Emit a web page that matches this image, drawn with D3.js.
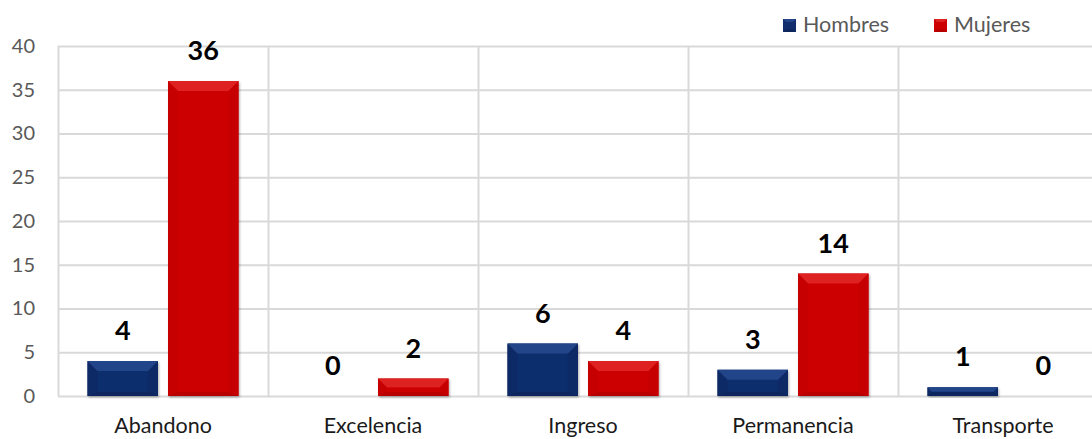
<!DOCTYPE html>
<html><head><meta charset="utf-8">
<script src="https://cdn.jsdelivr.net/npm/d3@7/dist/d3.min.js"></script>
<style>body{margin:0;background:#fff;} svg{display:block;}</style>
</head><body>
<svg id="c" width="1092" height="439"></svg>
<script>
const categories = ["Abandono","Excelencia","Ingreso","Permanencia","Transporte"];
const seriesNames = ["Hombres","Mujeres"];
const hombres = [4,0,6,3,1];
const mujeres = [36,2,4,14,0];
const yTicks = [0,5,10,15,20,25,30,35,40];

const colors = {
  Hombres:{base:"#112d6c", top:"#24458a", side:"#102a66", bottom:"#0d265e"},
  Mujeres:{base:"#cc0000", top:"#de2323", side:"#c60000", bottom:"#b80000"}
};

const svg = d3.select("#c");
const m = {left:58, top:46, bottom:396};
const x0 = d3.scaleBand().domain(categories).range([m.left, m.left + 5*210]).paddingInner(0).paddingOuter(0);
const x1 = d3.scaleBand().domain(seriesNames).range([29.5, 210-29.5]).paddingInner(0.125).paddingOuter(0);
const y = d3.scaleLinear().domain([0,40]).range([m.bottom, m.top]);

const defs = svg.append("defs");
const f = defs.append("filter").attr("id","sh").attr("x","-20%").attr("y","-20%").attr("width","140%").attr("height","140%");
f.append("feDropShadow").attr("dx",1).attr("dy",1.5).attr("stdDeviation",1.2).attr("flood-color","#000").attr("flood-opacity",0.3);

const FONT = "Lato, 'Open Sans', sans-serif";

// gridlines horizontal
svg.append("g").selectAll("line").data(yTicks).join("line")
  .attr("x1", m.left).attr("x2", 1092).attr("y1", d=>y(d)+0.5).attr("y2", d=>y(d)+0.5)
  .attr("stroke","#d9d9d9").attr("stroke-width",2);
// vertical gridlines at category boundaries
svg.append("g").selectAll("line").data(categories).join("line")
  .attr("x1", d=>x0(d)+0.5).attr("x2", d=>x0(d)+0.5).attr("y1", m.top).attr("y2", m.bottom)
  .attr("stroke","#d9d9d9").attr("stroke-width",2);

// y axis labels
const yAxis = d3.axisLeft(y).tickValues(yTicks).tickSize(0).tickPadding(23);
const gy = svg.append("g").attr("transform",`translate(${m.left},0)`).call(yAxis);
gy.select(".domain").remove();
gy.selectAll("text").attr("font-family",FONT).attr("font-size",20).attr("fill","#595959");

// x axis labels
const xAxis = d3.axisBottom(x0).tickSize(0).tickPadding(22);
const gx = svg.append("g").attr("transform",`translate(0,${m.bottom})`).call(xAxis);
gx.select(".domain").remove();
gx.selectAll("text").attr("font-family",FONT).attr("font-size",21.5).attr("fill","#1a1a1a");

const data = [];
categories.forEach((c,i)=>{
  data.push({cat:c, s:"Hombres", v:hombres[i]});
  data.push({cat:c, s:"Mujeres", v:mujeres[i]});
});

const bars = svg.append("g").selectAll("g").data(data.filter(d=>d.v>0)).join("g").attr("filter","url(#sh)");
bars.each(function(d){
  const g = d3.select(this);
  const xl = x0(d.cat)+x1(d.s), w = x1.bandwidth();
  const yt = y(d.v), yb = y(0), h = yb-yt;
  const b = Math.min(10, h/2, w/2);
  const bb = Math.min(4, h/2);
  const col = colors[d.s];
  g.append("rect").attr("x",xl).attr("y",yt).attr("width",w).attr("height",h).attr("fill",col.base);
  // left bevel
  g.append("polygon").attr("points",[[xl,yt],[xl+b,yt+b],[xl+b,yb-bb],[xl,yb]].join(" ")).attr("fill",col.side);
  // right bevel
  g.append("polygon").attr("points",[[xl+w,yt],[xl+w-b,yt+b],[xl+w-b,yb-bb],[xl+w,yb]].join(" ")).attr("fill",col.side);
  // bottom bevel
  g.append("polygon").attr("points",[[xl,yb],[xl+b,yb-bb],[xl+w-b,yb-bb],[xl+w,yb]].join(" ")).attr("fill",col.bottom);
  // top bevel
  g.append("polygon").attr("points",[[xl,yt],[xl+w,yt],[xl+w-b,yt+b],[xl+b,yt+b]].join(" ")).attr("fill",col.top);
});

// value labels
svg.append("g").selectAll("text").data(data).join("text")
  .attr("x", d=>x0(d.cat)+x1(d.s)+x1.bandwidth()/2)
  .attr("y", d=>Math.max(y(d.v)-21, 60))
  .attr("text-anchor","middle")
  .attr("font-family",FONT).attr("font-weight","bold").attr("font-size",27).attr("fill","#000")
  .text(d=>d.v);

// legend
const leg = svg.append("g");
const legX = {Hombres:783, Mujeres:934};
seriesNames.forEach(s=>{
  const col = colors[s];
  const lx = legX[s], ly = 19, sz = 13, b = 3;
  leg.append("rect").attr("x",lx).attr("y",ly).attr("width",sz).attr("height",sz).attr("fill",col.base);
  leg.append("polygon").attr("points",[[lx,ly],[lx+sz,ly],[lx+sz-b,ly+b],[lx+b,ly+b]].join(" ")).attr("fill",col.top);
  leg.append("polygon").attr("points",[[lx,ly+sz],[lx+b,ly+sz-b],[lx+sz-b,ly+sz-b],[lx+sz,ly+sz]].join(" ")).attr("fill",col.bottom);
  leg.append("text").attr("x",lx+20).attr("y",ly+12.5).attr("font-family",FONT).attr("font-size",21.5).attr("fill","#595959").text(s);
});
</script>
</body></html>
